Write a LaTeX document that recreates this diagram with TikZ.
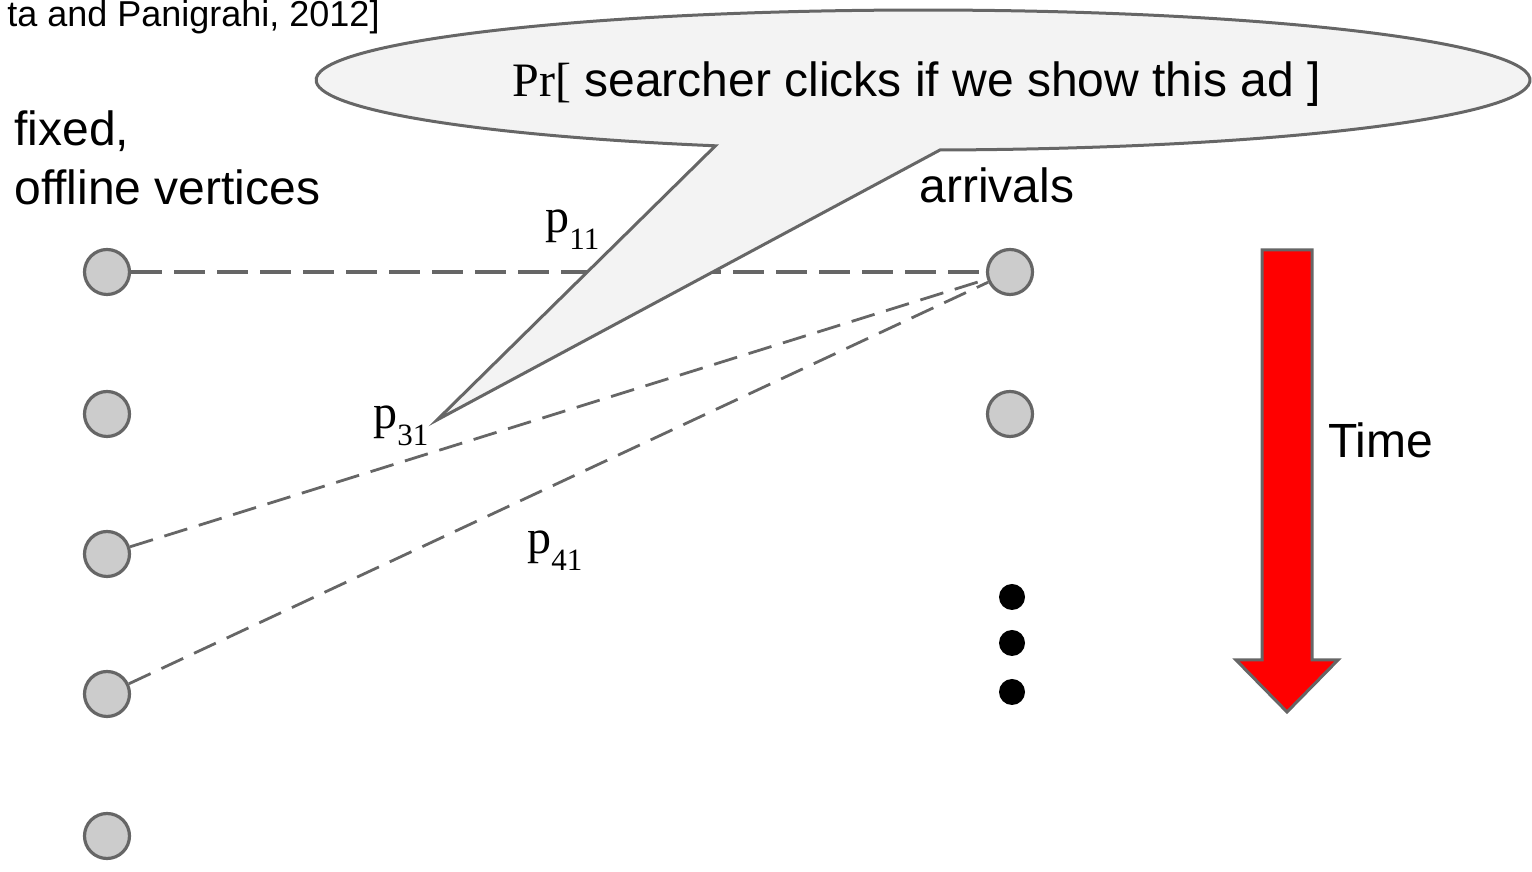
\documentclass[tikz,border=0pt]{standalone}
\usepackage{fontspec}
\setmainfont{Liberation Sans}
\newfontfamily\serifface{Liberation Serif}
\definecolor{edgegray}{HTML}{666666}
\definecolor{vtxfill}{HTML}{CCCCCC}
\definecolor{bubblefill}{HTML}{F3F3F3}
\definecolor{timered}{HTML}{FF0000}
% subscripted probability label, e.g. \plabel{11}
\newcommand{\plabel}[1]{{\serifface p\raisebox{-8.5pt}{\fontsize{15.5}{18}\selectfont #1}}}
\begin{document}
\begin{tikzpicture}[x=0.5pt,y=0.5pt,
  vtx/.style={circle,minimum size=22.5pt,inner sep=0pt,draw=edgegray,line width=1.6pt,fill=vtxfill},
  dotnode/.style={circle,minimum size=13pt,inner sep=0pt,fill=black},
  bigtext/.style={font=\fontsize{24}{28}\selectfont,inner sep=0pt},
  plab/.style={font=\fontsize{24}{28}\selectfont,inner sep=0pt,anchor=base west},
  solidedge/.style={draw=edgegray,line width=1.6pt,dash pattern=on 15.5pt off 6pt},
  diagedge/.style={draw=edgegray,line width=1.4pt,dash pattern=on 12pt off 6pt},
  bubble/.style={draw=edgegray,line width=1.5pt,fill=bubblefill,line join=miter},
  timearrow/.style={draw=edgegray,line width=1.5pt,fill=timered,line join=miter}]
\useasboundingbox (0,0) rectangle (1532,872);

% citation
\node[font=\fontsize{18}{22}\selectfont,inner sep=0pt,anchor=base east] (cite) at (380,845) {ta and Panigrahi, 2012]};

% column headings
\node[bigtext,anchor=base west] (fixed) at (14,726) {fixed,};
\node[bigtext,anchor=base west] (offline) at (14,667) {offline vertices};
\node[bigtext,anchor=base] (arrivals) at (997,669) {arrivals};

% offline vertices
\node[vtx] (l1) at (107,600) {};
\node[vtx] (l2) at (107,458) {};
\node[vtx] (l3) at (107,318) {};
\node[vtx] (l4) at (107,178) {};
\node[vtx] (l5) at (107,36) {};

% online arrivals
\node[vtx] (r1) at (1010,600) {};
\node[vtx] (r2) at (1010,458) {};
\node[dotnode] (d1) at (1012,275) {};
\node[dotnode] (d2) at (1012,229) {};
\node[dotnode] (d3) at (1012,180) {};

% edges with click probabilities
\draw[solidedge] (l1) -- (r1);
\draw[diagedge] (l3) -- (r1);
\draw[diagedge] (l4) -- (r1);

% speech bubble
\coordinate (tip) at (437,452);
\coordinate (bstart) at (940,722);
\filldraw[bubble] (bstart) arc[start angle=271.6,end angle=610,x radius=607,y radius=70] -- (tip) -- cycle;
\node[bigtext,anchor=base west] (prob) at (512,775) {{\serifface Pr[}\ searcher clicks if we show this ad ]};

% edge labels
\node[plab] (p11) at (545,639) {\plabel{11}};
\node[plab] (p31) at (373,443) {\plabel{31}};
\node[plab] (p41) at (527,318) {\plabel{41}};

% time arrow
\filldraw[timearrow] (1262,622) -- (1312,622) -- (1312,212) -- (1338,212)
  -- (1287,160) -- (1236,212) -- (1262,212) -- cycle;
\node[bigtext,anchor=base west] (time) at (1328,414) {Time};
\end{tikzpicture}
\end{document}
